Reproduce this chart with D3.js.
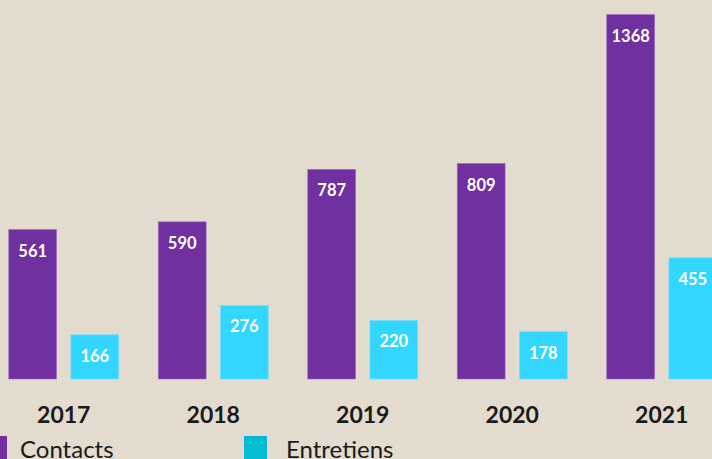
<!DOCTYPE html>
<html>
<head>
<meta charset="utf-8">
<script src="https://cdn.jsdelivr.net/npm/d3@7"></script>
<style>
html,body{margin:0;padding:0;background:#E2DBCE;}
svg{display:block;font-family:Lato, "Open Sans", sans-serif;}
</style>
</head>
<body>
<svg id="chart" width="712" height="459"></svg>
<script>
const years = ["2017", "2018", "2019", "2020", "2021"];
const seriesNames = ["Contacts", "Entretiens"];
const contacts = [561, 590, 787, 809, 1368];
const entretiens = [166, 276, 220, 178, 455];
const barColors = ["#7030A0", "#33D6FF"];
const legendColors = ["#7030A0", "#00BDD4"];

const svg = d3.select("#chart");
const W = 712, H = 459;
svg.append("rect").attr("width", W).attr("height", H).attr("fill", "#E2DBCE");

const x = d3.scaleBand().domain(years).range([-11, 736.5]).padding(0);
const xs = d3.scaleBand().domain(seriesNames).range([0, 110]).paddingInner(0.23).paddingOuter(0);
const y = d3.scaleLinear().domain([0, 1368]).range([379, 14.6]);

const data = [];
years.forEach((yr, i) => {
  data.push({year: yr, s: seriesNames[0], v: contacts[i], c: barColors[0], stroke: "#9A6CC0"});
  data.push({year: yr, s: seriesNames[1], v: entretiens[i], c: barColors[1], stroke: "#6FE2FF"});
});

const offset = (x.bandwidth() - 110) / 2;
const g = svg.append("g");
g.selectAll("rect.bar").data(data).join("rect")
  .attr("class", "bar")
  .attr("x", d => x(d.year) + offset + xs(d.s))
  .attr("y", d => y(d.v))
  .attr("width", xs.bandwidth())
  .attr("height", d => y(0) - y(d.v))
  .attr("fill", d => d.c)
  .attr("stroke", d => d.stroke)
  .attr("stroke-width", 0.6);

g.selectAll("text.val").data(data).join("text")
  .attr("class", "val")
  .attr("x", d => x(d.year) + offset + xs(d.s) + xs.bandwidth() / 2)
  .attr("y", d => y(d.v) + 27)
  .attr("text-anchor", "middle")
  .attr("fill", "#ffffff")
  .attr("font-weight", "bold")
  .attr("font-size", 16.5)
  .text(d => d.v);

// category axis labels
const axis = d3.axisBottom(x).tickSize(0).tickPadding(0);
const ax = svg.append("g").attr("transform", "translate(0,405)").call(axis);
ax.select(".domain").remove();
ax.selectAll("text")
  .attr("font-family", "Lato, sans-serif")
  .attr("font-size", 23)
  .attr("font-weight", "bold")
  .attr("fill", "#1a1a1a")
  .attr("dy", null)
  .attr("y", 17.5);

// legend
const legendX = [-16, 244];
const leg = svg.append("g");
seriesNames.forEach((n, i) => {
  leg.append("rect").attr("x", legendX[i]).attr("y", 436).attr("width", 23).attr("height", 23).attr("fill", legendColors[i]);
  leg.append("text").attr("x", legendX[i] + 36 + (i === 1 ? 6 : 0)).attr("y", 458)
    .attr("font-size", 24).attr("fill", "#1a1a1a").text(n);
});
</script>
</body>
</html>
